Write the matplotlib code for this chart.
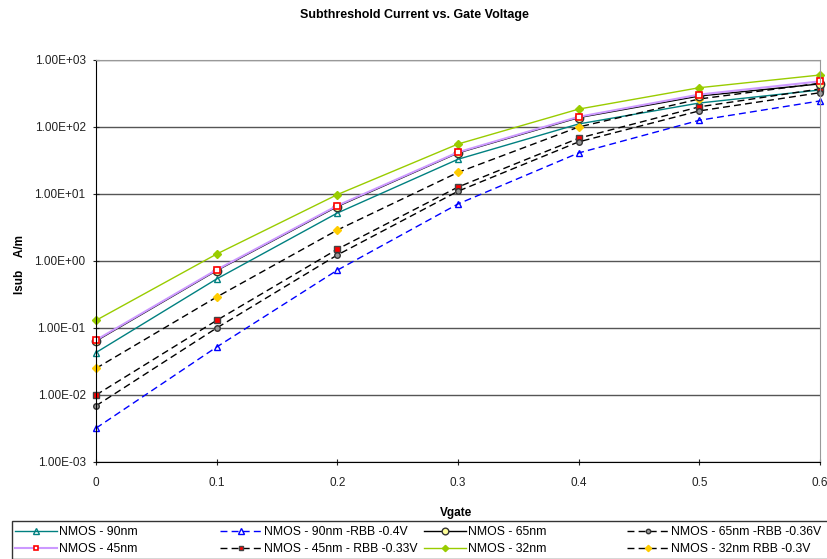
import numpy as np
import matplotlib
matplotlib.use("Agg")
import matplotlib.pyplot as plt
from matplotlib.patches import Rectangle
from matplotlib.ticker import FixedLocator, FuncFormatter, NullLocator

plt.rcParams['font.family'] = ['Liberation Sans', 'DejaVu Sans']

vgate = [0, 0.1, 0.2, 0.3, 0.4, 0.5, 0.6]

nmos_90 = [0.043, 0.54, 5.2, 33, 111, 228, 357]
nmos_90_rbb = [0.0032, 0.052, 0.73, 7.1, 41, 126, 245]
nmos_65 = [0.064, 0.72, 6.5, 41, 138, 290, 440]
nmos_65_rbb = [0.0069, 0.10, 1.23, 11, 60, 174, 325]
nmos_45 = [0.066, 0.74, 6.7, 42, 142, 305, 480]
nmos_45_rbb = [0.010, 0.13, 1.5, 12.7, 68, 200, 370]
nmos_32 = [0.13, 1.27, 9.8, 55.7, 185, 386, 597]
nmos_32_rbb = [0.025, 0.29, 2.9, 21, 100, 262, 450]

yticks = [1e-3, 1e-2, 1e-1, 1e0, 1e1, 1e2, 1e3]

W, H = 828, 559
fig = plt.figure(figsize=(W / 100, H / 100), dpi=100)
ax = fig.add_axes([96 / W, 1 - 462 / H, (820 - 96) / W, (462 - 60) / H])

dash = (0, (5, 3))

h90, = ax.plot(vgate, nmos_90, color='#008080', lw=1, marker='^', ms=5, mfc='none', mec='#008080',
               label='NMOS - 90nm', clip_on=False)
h45, = ax.plot(vgate, nmos_45, color='#CC99FF', lw=1.5, marker='s', ms=4, mfc='white', mec='red', mew=1.2,
               label='NMOS - 45nm', clip_on=False, zorder=2.2)
h90r, = ax.plot(vgate, nmos_90_rbb, color='blue', lw=1, ls=dash, marker='^', ms=5, mfc='none', mec='blue',
                label='NMOS - 90nm -RBB -0.4V', clip_on=False)
h45r, = ax.plot(vgate, nmos_45_rbb, color='black', lw=1, ls=dash, marker='s', ms=4, mfc='red', mec='#444444',
                label='NMOS - 45nm - RBB -0.33V', clip_on=False)
h65, = ax.plot(vgate, nmos_65, color='black', lw=1, marker='o', ms=6, mfc='#FFFF99', mec='#333333',
               label='NMOS - 65nm', clip_on=False, zorder=2.1)
h32, = ax.plot(vgate, nmos_32, color='#99CC00', lw=1, marker='D', ms=4, mfc='#99CC00', mec='#99CC00',
               label='NMOS - 32nm', clip_on=False)
h65r, = ax.plot(vgate, nmos_65_rbb, color='black', lw=1, ls=dash, marker='o', ms=4, mfc='#999999', mec='#333333',
                label='NMOS - 65nm -RBB -0.36V', clip_on=False)
h32r, = ax.plot(vgate, nmos_32_rbb, color='black', lw=1, ls=dash, marker='D', ms=4, mfc='#FFCC00', mec='#FFCC00',
                label='NMOS - 32nm RBB -0.3V', clip_on=False)

ax.set_yscale('log')
ax.set_ylim(1e-3, 1e3)
ax.set_xlim(0, 0.6)
ax.yaxis.set_major_locator(FixedLocator(yticks))
ax.yaxis.set_minor_locator(NullLocator())
ax.yaxis.set_major_formatter(FuncFormatter(lambda v, p: '%.2E' % v))
ax.set_xticks(vgate)
ax.set_xticklabels(['0', '0.1', '0.2', '0.3', '0.4', '0.5', '0.6'])
ax.tick_params(labelsize=8.5, length=5, direction='inout', colors='#222222', pad=5)
ax.tick_params(axis='x', pad=8)
ax.grid(axis='y', color='#555555', lw=1)
ax.set_axisbelow(True)
for s in ['top', 'right']:
    ax.spines[s].set_color('#999999')
ax.spines['left'].set_color('black')
ax.spines['bottom'].set_color('black')

fig.text(456 / W, 1 - 513 / H, 'Vgate', ha='center', va='center', fontsize=8.5, fontweight='bold')
fig.text(20 / W, 1 - 265 / H, 'Isub    A/m', ha='center', va='center', rotation=90,
         fontsize=8.5, fontweight='bold')
fig.text(0.5, 1 - 15 / H, 'Subthreshold Current vs. Gate Voltage', ha='center', va='center',
         fontsize=9, fontweight='bold')

# legend: frame plus four columns
fig.patches.append(Rectangle((12 / W, 0.5 / H), (W - 12) / W, 38 / H, transform=fig.transFigure,
                             fill=False, edgecolor='#333333', lw=1))
cols = [([h90, h45], 15), ([h90r, h45r], 220), ([h65, h32], 424), ([h65r, h32r], 627)]
for hs, x0 in cols:
    lg = fig.legend(handles=hs, loc='upper left', bbox_to_anchor=(x0 / W, 1 - 526 / H), frameon=False,
                    fontsize=8.8, handlelength=3.4, handletextpad=0.2, borderpad=0, borderaxespad=0,
                    labelspacing=0.4, markerscale=0.8)

fig.savefig('out.png', dpi=100)
